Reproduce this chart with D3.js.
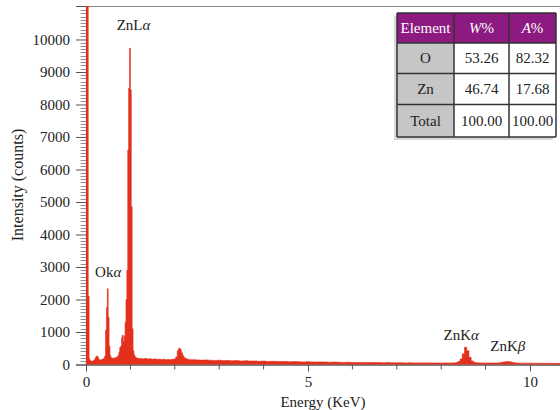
<!DOCTYPE html>
<html><head><meta charset="utf-8">
<script src="https://cdn.jsdelivr.net/npm/d3@7/dist/d3.min.js"></script>
<style>
html,body{margin:0;padding:0;background:#fff;}
svg{display:block;font-family:"Liberation Serif","DejaVu Serif",serif;}
</style></head>
<body>
<script>
// ---- data ----
const energy = [0.00,0.04,0.06,0.08,0.09,0.11,0.13,0.15,0.17,0.19,0.21,0.23,0.25,0.27,0.29,0.31,0.33,0.35,0.37,0.39,0.41,0.43,0.45,0.47,0.49,0.51,0.53,0.55,0.57,0.59,0.61,0.63,0.65,0.67,0.69,0.71,0.73,0.75,0.77,0.79,0.81,0.83,0.85,0.87,0.89,0.91,0.93,0.95,0.97,0.99,1.01,1.03,1.05,1.07,1.09,1.11,1.13,1.15,1.17,1.20,1.25,1.30,1.35,1.40,1.45,1.50,1.55,1.60,1.65,1.70,1.75,1.80,1.85,1.90,1.95,2.00,2.04,2.07,2.10,2.13,2.16,2.19,2.22,2.26,2.30,2.35,2.40,2.45,2.50,2.60,2.70,2.80,2.90,3.00,3.10,3.20,3.30,3.40,3.50,3.60,3.70,3.80,3.90,4.00,4.10,4.20,4.30,4.40,4.50,4.60,4.70,4.80,4.90,5.00,5.10,5.20,5.30,5.40,5.50,5.60,5.70,5.80,5.90,6.00,6.10,6.20,6.30,6.40,6.50,6.60,6.70,6.80,6.90,7.00,7.10,7.20,7.30,7.40,7.50,7.60,7.70,7.80,7.90,8.00,8.10,8.20,8.30,8.35,8.40,8.45,8.50,8.55,8.60,8.65,8.70,8.75,8.80,8.90,9.00,9.10,9.20,9.30,9.35,9.40,9.45,9.50,9.55,9.60,9.65,9.70,9.80,9.90,10.00,10.10,10.20,10.30,10.40,10.50,10.60,10.70];
const counts = [12000,12000,2100,180,130,110,100,105,115,140,190,240,265,230,170,140,140,150,160,170,190,260,1060,1750,2330,1450,560,280,210,190,200,190,200,210,220,240,280,380,520,560,820,900,700,880,1300,2000,2900,6600,8500,9730,8450,4850,1100,420,300,240,210,200,190,185,180,175,185,170,175,165,170,160,165,155,160,150,155,150,160,170,230,420,500,470,360,270,210,180,160,150,145,150,140,135,140,130,125,130,120,125,115,120,110,115,105,110,100,105,95,100,95,90,95,85,90,85,80,85,80,75,80,75,70,75,70,65,70,65,60,65,60,62,58,60,55,58,55,52,55,50,52,48,50,48,50,46,48,45,48,46,50,60,90,170,330,530,420,220,110,70,55,50,46,44,46,50,60,75,85,90,85,70,55,45,42,40,42,38,40,37,38,36,35,36];
const yTicks = [0,1000,2000,3000,4000,5000,6000,7000,8000,9000,10000];
const xTicks = [0,5,10];
const peakLabels = ["ZnL\u03b1","Ok\u03b1","ZnK\u03b1","ZnK\u03b2"];
const peakEnergy = [1.07,0.50,8.45,9.50];
const peakCounts = [10280,2680,750,400];
const tableHeader = ["Element","W%","A%"];
const tableElements = ["O","Zn","Total"];
const tableW = ["53.26","46.74","100.00"];
const tableA = ["82.32","17.68","100.00"];

// ---- layout ----
const W = 560, H = 410;
const svg = d3.select("body").append("svg").attr("width", W).attr("height", H);
const x = d3.scaleLinear().domain([0, 10.7]).range([86, 86 + 44.4 * 10.7]);
const y = d3.scaleLinear().domain([0, 11030]).range([364.5, 6]);
const red = "#e3301c";

svg.append("clipPath").attr("id","plot").append("rect")
  .attr("x", 86).attr("y", 6).attr("width", W - 86).attr("height", 358.5);

// top frame
svg.append("line").attr("x1", 86).attr("x2", W).attr("y1", 6.5).attr("y2", 6.5)
  .attr("stroke","#8a8a8a").attr("stroke-width",1.2);

// y axis minor ticks
const minor = d3.range(0, 11001, 100).filter(v => v % 1000 !== 0);
svg.append("g").selectAll("line").data(minor).join("line")
  .attr("x1", 80.5).attr("x2", 86).attr("y1", d=>Math.round(y(d))+0.5).attr("y2", d=>Math.round(y(d))+0.5)
  .attr("stroke","#777").attr("stroke-width",0.8);
const yAxis = d3.axisLeft(y).tickValues(yTicks).tickSize(10).tickPadding(6).tickFormat(d3.format("d"));
const ya = svg.append("g").attr("transform","translate(86,0)").call(yAxis);
ya.select(".domain").attr("stroke","#555").attr("stroke-width",1.2);
ya.selectAll(".tick line").attr("stroke","#555");
ya.selectAll("text").attr("font-size",15).attr("fill","#222").attr("font-family","Liberation Serif, serif");

// x axis
const xMinor = d3.range(1, 11).filter(v => v % 5 !== 0);
svg.append("g").selectAll("line").data(xMinor).join("line")
  .attr("x1", d=>x(d)).attr("x2", d=>x(d)).attr("y1", 364.5).attr("y2", 369.5)
  .attr("stroke","#555").attr("stroke-width",1);
const xAxis = d3.axisBottom(x).tickValues(xTicks).tickSize(7).tickPadding(5).tickFormat(d3.format("d"));
const xa = svg.append("g").attr("transform","translate(0,364.5)").call(xAxis);
xa.select(".domain").attr("stroke","#555").attr("stroke-width",1.3).attr("d", `M86,0.5H${W}`);
xa.selectAll(".tick line").attr("stroke","#555");
xa.selectAll("text").attr("font-size",15).attr("fill","#222").attr("font-family","Liberation Serif, serif");

// spectrum (drawn over the axis line so the 0 keV spike shows)
const pts = energy.map((e,i)=>[e, counts[i]]);
const area = d3.area().x(d=>x(d[0])).y0(y(0)).y1(d=>y(d[1])).curve(d3.curveStep);
svg.append("path").datum(pts).attr("d", area)
  .attr("fill", red).attr("stroke", red).attr("stroke-width", 0.6)
  .attr("clip-path","url(#plot)");

// axis titles
svg.append("text").attr("x", 323).attr("y", 407).attr("text-anchor","middle")
  .attr("font-size",15).attr("fill","#222").text("Energy (KeV)");
svg.append("text").attr("transform","translate(23,185) rotate(-90)").attr("text-anchor","middle")
  .attr("font-size",16).attr("fill","#222").text("Intensity (counts)");

// peak labels
svg.append("g").selectAll("text").data(peakLabels).join("text")
  .attr("x",(d,i)=>x(peakEnergy[i])).attr("y",(d,i)=>y(peakCounts[i]))
  .attr("text-anchor","middle").attr("font-size",15).attr("fill","#222")
  .each(function(d){
    const t = d3.select(this);
    t.append("tspan").text(d.slice(0,-1));
    t.append("tspan").attr("font-style","italic").text(d.slice(-1));
  });

// table
const colX = [397, 454, 509, 556];
const rowY = [13, 43, 73.5, 104.5, 137];
const tg = svg.append("g");
tg.append("rect").attr("x", colX[0]-3).attr("y", rowY[0]+3).attr("width", colX[3]-colX[0]).attr("height", rowY[4]-rowY[0])
  .attr("fill","#d8d8d8");
tg.append("rect").attr("x", colX[0]).attr("y", rowY[0]).attr("width", colX[3]-colX[0]).attr("height", rowY[4]-rowY[0])
  .attr("fill","#fff");
tg.selectAll("rect.h").data(tableHeader).join("rect")
  .attr("x",(d,i)=>colX[i]).attr("y",rowY[0]).attr("width",(d,i)=>colX[i+1]-colX[i]).attr("height",rowY[1]-rowY[0])
  .attr("fill","#8c1a80");
tg.selectAll("rect.e").data(tableElements).join("rect")
  .attr("x",colX[0]).attr("y",(d,i)=>rowY[i+1]).attr("width",colX[1]-colX[0]).attr("height",(d,i)=>rowY[i+2]-rowY[i+1])
  .attr("fill","#c6c6c6");
colX.forEach(cx => tg.append("line").attr("x1",cx).attr("x2",cx).attr("y1",rowY[0]).attr("y2",rowY[4]).attr("stroke","#333").attr("stroke-width",1.5));
rowY.forEach(ry => tg.append("line").attr("x1",colX[0]).attr("x2",colX[3]).attr("y1",ry).attr("y2",ry).attr("stroke","#333").attr("stroke-width",1.5));
const cx = i => (colX[i]+colX[i+1])/2;
const cy = r => (rowY[r]+rowY[r+1])/2 + 5;
tableHeader.forEach((h,i)=>{
  const t = tg.append("text").attr("x",cx(i)).attr("y",cy(0)).attr("text-anchor","middle").attr("font-size",15).attr("fill","#fff");
  if (i===0) t.text(h);
  else { t.append("tspan").attr("font-style","italic").text(h.slice(0,-1)); t.append("tspan").text(h.slice(-1)); }
});
const rows = tableElements.map((e,i)=>[e, tableW[i], tableA[i]]);
rows.forEach((r,ri)=> r.forEach((v,ci)=>{
  tg.append("text").attr("x",cx(ci)).attr("y",cy(ri+1)).attr("text-anchor","middle").attr("font-size",15).attr("fill","#222").text(v);
}));
</script>
</body></html>
